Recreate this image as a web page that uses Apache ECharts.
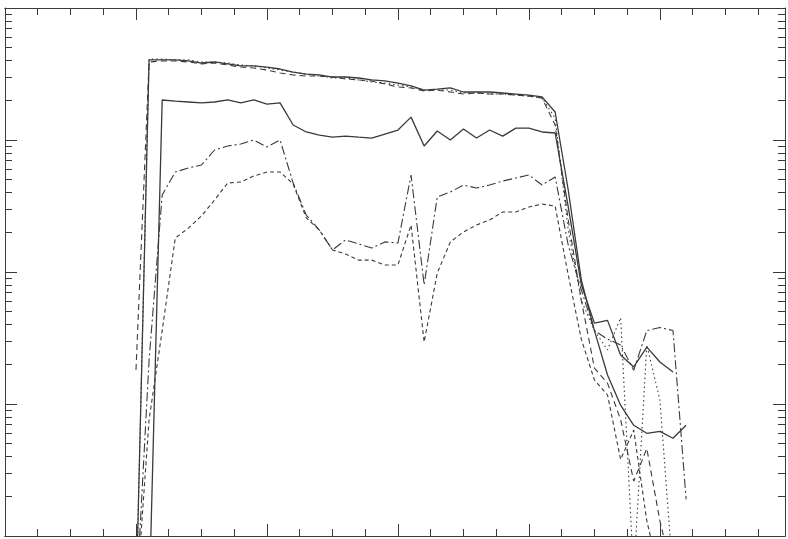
<!DOCTYPE html>
<html>
<head>
<meta charset="utf-8">
<script src="https://cdn.jsdelivr.net/npm/echarts@6/dist/echarts.min.js"></script>
<style>
    html, body { margin: 0; padding: 0; background: #ffffff; }
    #mychart { width: 788px; height: 539px; }
</style>
</head>
<body>
<div id="mychart"></div>
<script>
// x positions of the samples (axis units, 4 minor ticks per major tick)
var xData = [4.0, 4.4, 4.8, 5.2, 5.6, 6.0, 6.4, 6.8, 7.2, 7.6,
    8.0, 8.4, 8.8, 9.2, 9.6, 10.0, 10.4, 10.8, 11.2, 11.6,
    12.0, 12.4, 12.8, 13.2, 13.6, 14.0, 14.4, 14.8, 15.2, 15.6,
    16.0, 16.4, 16.8, 17.2, 17.6, 18.0, 18.4, 18.8, 19.2, 19.6,
    20.0, 20.4, 20.8];

// top solid curve
var solidTop = [0.3, 4040, 4040, 4040, 3970, 3830, 3900, 3770, 3640, 3640,
    3570, 3450, 3270, 3160, 3110, 3000, 3000, 2950, 2850, 2800,
    2700, 2570, 2390, 2430, 2480, 2310, 2310, 2310, 2270, 2230,
    2190, 2120, 1630, 418, 87, 36, 16.6, 9.8, 6.9, 6.0,
    6.2, 5.5, 6.9];

// top dashed curve
var dashTop = [18.1, 3900, 3970, 3970, 3900, 3770, 3830, 3700, 3570, 3510,
    3390, 3220, 3110, 3050, 3050, 3000, 2900, 2850, 2800, 2660,
    2520, 2480, 2350, 2390, 2310, 2230, 2270, 2230, 2230, 2190,
    2150, 2080, 1300, 248, 61, 18.7, 14.4, 7.6, 2.6, 4.6,
    1.3, 0.5, null];

// top dotted curve
var dotTop = [0.3, 4110, 4110, 4040, 4040, 3900, 3900, 3830, 3700, 3640,
    3510, 3390, 3270, 3160, 3050, 2950, 2950, 2850, 2750, 2700,
    2610, 2520, 2390, 2390, 2390, 2270, 2270, 2230, 2230, 2190,
    2150, 2080, 1470, 208, 61, 36, 25.7, 45, 0.5, 28,
    10.7, 0.5, null];

// second solid curve
var solidMid = [0.3, 0.3, 2010, 1970, 1940, 1910, 1940, 2010, 1910, 2010,
    1870, 1910, 1300, 1150, 1090, 1050, 1070, 1050, 1035, 1110,
    1190, 1490, 901, 1170, 1000, 1210, 1035, 1190, 1070, 1230,
    1230, 1150, 1130, 311, 80, 41, 43, 23.5, 19.1, 27,
    20.8, 17.5, null];

// dash-dot curve
var dashDot = [0.3, 21.5, 383, 572, 614, 647, 840, 901, 933, 1000,
    885, 1000, 472, 270, 208, 147, 175, 163, 152, 169,
    166, 543, 80, 370, 404, 456, 433, 456, 489, 515,
    543, 456, 525, 160, 73, 36, 31, 28, 18, 36,
    38, 36, 1.9];

// short dashed curve
var dashLow = [0.3, 7.6, 36, 181, 215, 266, 351, 472, 481, 534,
    572, 572, 464, 257, 208, 147, 137, 123, 123, 113,
    113, 227, 29.5, 98, 169, 201, 227, 248, 285, 285,
    311, 327, 316, 95, 31, 15.2, 11.7, 3.8, 6.35, 1.3,
    0.5, null, null];

function pairs(ys) {
    var out = [];
    for (var i = 0; i < xData.length; i++) {
        out.push([xData[i], ys[i]]);
    }
    return out;
}

var ink = '#3a3a3a';

function xAx(pos, len, step) {
    return {
        type: 'value', position: pos, min: 0, max: 23.82, interval: step,
        axisLine: { show: true, onZero: false, lineStyle: { color: ink, width: 1 } },
        axisTick: { show: true, inside: true, length: len, lineStyle: { color: ink, width: 1 } },
        axisLabel: { show: false },
        splitLine: { show: false }
    };
}

function yAx(pos) {
    return {
        type: 'log', logBase: 10, position: pos, min: 1, max: 10000,
        axisLine: { show: true, onZero: false, lineStyle: { color: ink, width: 1 } },
        axisTick: { show: true, inside: true, length: 12, lineStyle: { color: ink, width: 1 } },
        minorTick: { show: true, splitNumber: 9, length: 7, lineStyle: { color: ink, width: 1 } },
        axisLabel: { show: false },
        splitLine: { show: false },
        minorSplitLine: { show: false }
    };
}

function line(name, ys, type, width) {
    return {
        name: name,
        type: 'line',
        xAxisIndex: 0,
        yAxisIndex: 0,
        data: pairs(ys),
        showSymbol: false,
        clip: true,
        connectNulls: false,
        lineStyle: { color: ink, width: width, type: type }
    };
}

var myChart = echarts.init(document.getElementById('mychart'));
myChart.setOption({
    animation: false,
    backgroundColor: '#ffffff',
    grid: { left: 5, right: 3, top: 8, bottom: 3, containLabel: false },
    xAxis: [
        xAx('bottom', 12, 4),
        xAx('bottom', 7, 1),
        xAx('top', 12, 4),
        xAx('top', 7, 1)
    ],
    yAxis: [
        yAx('left'),
        yAx('right')
    ],
    series: [
        line('top solid', solidTop, 'solid', 1.3),
        line('top dashed', dashTop, [6, 4], 1.1),
        line('top dotted', dotTop, [1.5, 3], 1.1),
        line('mid solid', solidMid, 'solid', 1.3),
        line('dash dot', dashDot, [9, 3, 2, 3], 1.1),
        line('short dash', dashLow, [4, 3], 1.1)
    ]
});
</script>
</body>
</html>
